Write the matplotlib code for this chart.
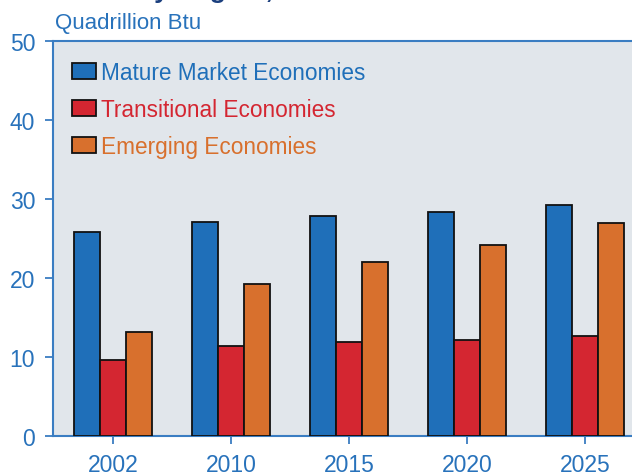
import numpy as np
import matplotlib.pyplot as plt
from matplotlib.patches import Patch

plt.rcParams['font.family'] = ['Liberation Sans', 'DejaVu Sans']

years = ['2002', '2010', '2015', '2020', '2025']
series = ['Mature Market Economies', 'Transitional Economies', 'Emerging Economies']
mature = [25.8, 27.1, 27.9, 28.4, 29.2]
transitional = [9.6, 11.4, 11.9, 12.2, 12.6]
emerging = [13.2, 19.2, 22.0, 24.2, 26.9]

colors = ['#1f6fb9', '#d42631', '#d8702d']
axis_blue = '#3a7dc2'
text_blue = '#2872bb'

fig = plt.figure(figsize=(6.32, 4.77), dpi=100)
ax = fig.add_axes([53/632, 40/477, 579/632, 395/477])
ax.set_facecolor('#e1e6eb')

x = np.arange(len(years))
w = 0.22
for i, (vals, c) in enumerate(zip([mature, transitional, emerging], colors)):
    ax.bar(x + (i - 1) * w, vals, w, color=c, edgecolor='#111111', linewidth=1.3, zorder=3)

ax.set_xlim(-0.508, 4.4)
ax.set_ylim(0, 50)
ax.set_yticks([0, 10, 20, 30, 40, 50])
ax.set_xticks(x)
ax.set_xticklabels(years)

for s in ['left', 'bottom', 'top']:
    ax.spines[s].set_color(axis_blue)
    ax.spines[s].set_linewidth(1.5)
ax.spines['right'].set_visible(False)
ax.tick_params(axis='y', colors=axis_blue, labelcolor=text_blue, length=5.8, width=1.3,
               labelsize=16.5, pad=7)
ax.tick_params(axis='x', colors=axis_blue, labelcolor=text_blue, length=5.8, width=1.3,
               labelsize=16.5, pad=6.5)

handles = [Patch(facecolor=c, edgecolor='#111111', linewidth=1.3) for c in colors]
ax.legend(handles, series, loc='upper left', bbox_to_anchor=(19/579, 0.95),
          frameon=False, fontsize=16.3, labelcolor=colors, handlelength=1.05,
          handleheight=0.68, handletextpad=0.25, labelspacing=0.62,
          borderpad=0, borderaxespad=0)

fig.text(55/632, 1 - 29/477, 'Quadrillion Btu', color=text_blue, fontsize=16,
         ha='left', va='baseline')
# title line is cropped at the top of the reference, only descenders show
fig.text(138/632, 1 + 1.5/477, 'by Region, 2002-2025', color='#1b3f7e', fontsize=19,
         fontweight='bold', ha='left', va='baseline')

fig.savefig('out.png', dpi=100)
